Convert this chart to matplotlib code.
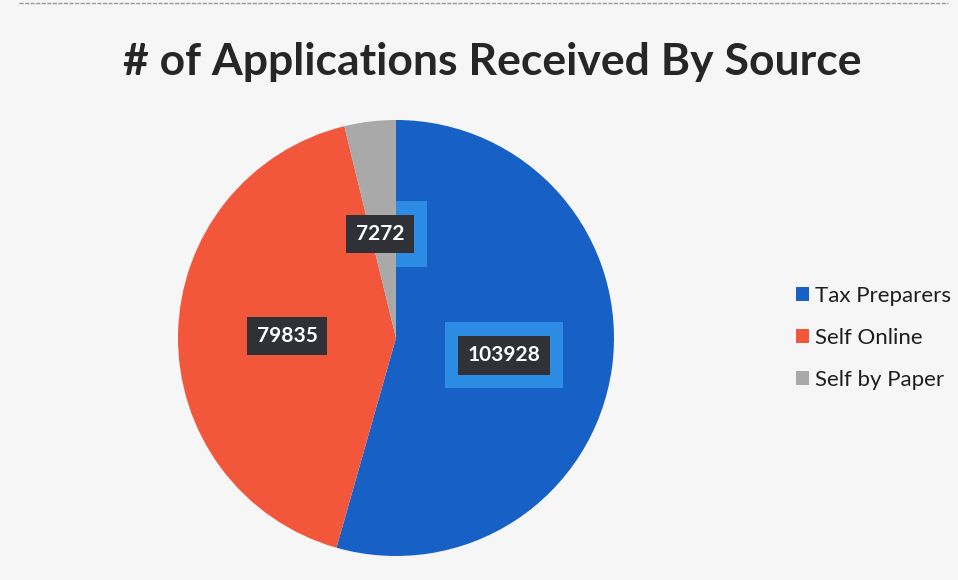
import numpy as np
import matplotlib
matplotlib.use("Agg")
import matplotlib.pyplot as plt

categories = ["Tax Preparers", "Self Online", "Self by Paper"]
values = [103928, 79835, 7272]
colors = ["#1760C6", "#F2573C", "#A9A9A9"]
title = "# of Applications Received By Source"

W, H = 958, 580
fig = plt.figure(figsize=(W / 100, H / 100), dpi=100)
fig.patch.set_facecolor("#F6F6F6")

# faint top rule like the scanned page
fig.add_artist(plt.Line2D([0.02, 0.99], [0.995, 0.995], color="#9A9A9A", lw=1.0,
                          ls=(0, (3, 1)), transform=fig.transFigure))

cx, cy, r = 396, 338, 218
ax = fig.add_axes([(cx - r) / W, (H - cy - r) / H, 2 * r / W, 2 * r / H])

wedges, _ = ax.pie(values, colors=colors, startangle=90, counterclock=False,
                   radius=1.0, wedgeprops=dict(linewidth=0))
ax.set_xlim(-1, 1)
ax.set_ylim(-1, 1)
ax.axis("off")

label_offsets = [(0.0, -0.01), (0.0, 0.0), (-0.016, 0.0)]
label_dist = [0.5, 0.5, 0.48]
for w, v, off, d in zip(wedges, values, label_offsets, label_dist):
    ang = np.deg2rad((w.theta1 + w.theta2) / 2)
    x = d * np.cos(ang) + off[0]
    y = d * np.sin(ang) + off[1]
    # light highlight box, only visible over the blue slice
    t2 = ax.text(x, y, str(v), ha="center", va="center", fontsize=15,
                 fontweight="bold", family="Lato", color=(0, 0, 0, 0),
                 bbox=dict(boxstyle="square,pad=1.1", fc="#2C8BE3", ec="none"))
    bp = t2.get_bbox_patch()
    bp.set_clip_on(True)
    bp.set_clip_path(wedges[0])
    ax.text(x, y, str(v), ha="center", va="center", fontsize=15,
            fontweight="bold", family="Lato", color="white",
            bbox=dict(boxstyle="square,pad=0.45", fc="#2F3136", ec="none"))

fig.text(492 / W, 1 - 62 / H, title, ha="center", va="center",
         fontsize=32, fontweight="bold", family="Lato", color="#262626")

handles = [plt.Rectangle((0, 0), 1, 1, fc=c, ec="none") for c in colors]
leg = fig.legend(handles, categories, loc="center left",
                 bbox_to_anchor=(776 / W, 1 - 338 / H), frameon=False,
                 prop=dict(family="Lato", size=16), labelspacing=1.0,
                 handlelength=0.6, handleheight=0.6, handletextpad=0.25,
                 labelcolor="#1E1E1E")

fig.savefig("out.png", dpi=100, facecolor=fig.get_facecolor())
